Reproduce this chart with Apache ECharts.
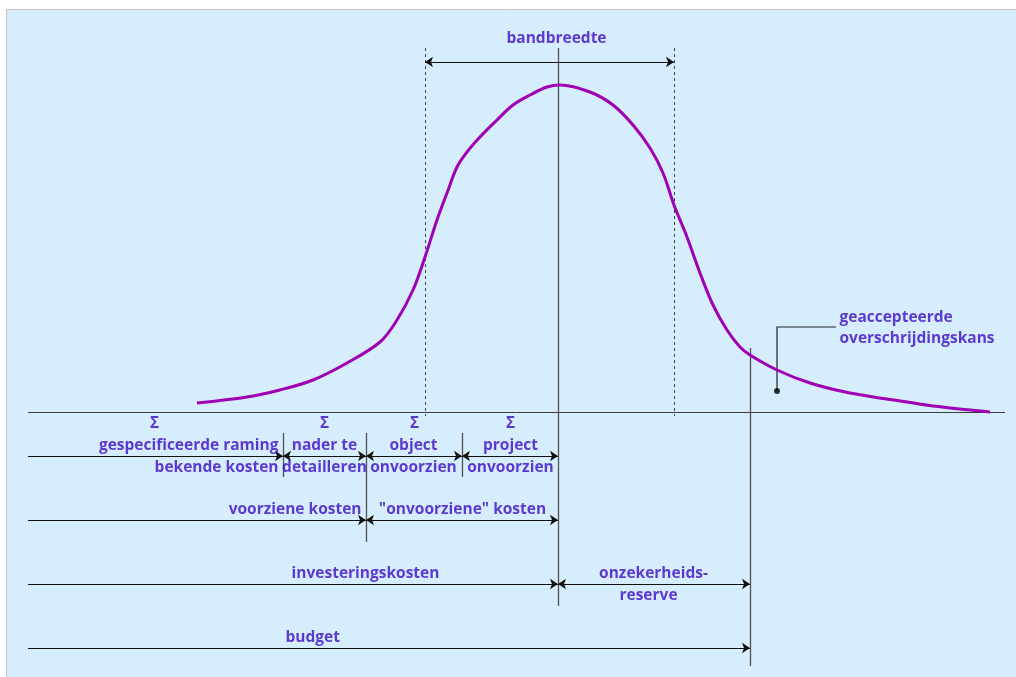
<!DOCTYPE html>
<html>
<head>
<meta charset="utf-8">
<script src="https://cdn.jsdelivr.net/npm/echarts@6/dist/echarts.min.js"></script>
<style>
html,body{margin:0;padding:0;background:#fff;}
#chart{width:1016px;height:677px;}
</style>
</head>
<body>
<div id="chart"></div>
<script>
// ---- data (cost on x, probability density on y; baseline = 0) ----
const curveCost = [197,247,280,313,347,380,397,413,425,437,447,457,467,480,497,513,530,547,560,590,613,633,650,663,674,687,700,713,727,740,750,777,810,850,907,933,990];
const curveDensity = [9,15,22,32,49,70,92,122,155,192,219,245,260,275,292,307,317,325,327,320,307,287,264,239,207,175,139,107,82,65,57,42,29,19,10,6,0];

// cost marks
const costStart = 28;
const costKnown = 283;        // gespecificeerde raming
const costDetail = 366;       // nader te detailleren
const costObject = 462;       // object onvoorzien
const costInvest = 558;       // investeringskosten (peak)
const costBudget = 750;       // budget
const bandLow = 425, bandHigh = 674;
const axisEnd = 1005;

// levels (density units, negatives are rows below the axis)
const bandLevel = 350;
const rowLevels = [-44, -108, -172, -236];

const labelColor = '#3c0ac4';

// labels: [cost, level, text, align]
const labels = [
  [557, 373, 'bandbreedte', 'center'],
  [155, -12, 'Σ', 'center'],
  [325, -12, 'Σ', 'center'],
  [415, -12, 'Σ', 'center'],
  [511, -12, 'Σ', 'center'],
  [279, -34, 'gespecificeerde raming', 'right'],
  [279, -56, 'bekende kosten', 'right'],
  [325, -34, 'nader te', 'center'],
  [325, -56, 'detailleren', 'center'],
  [414, -34, 'object', 'center'],
  [414, -56, 'onvoorzien', 'center'],
  [511, -34, 'project', 'center'],
  [511, -56, 'onvoorzien', 'center'],
  [362, -98, 'voorziene kosten', 'right'],
  [463, -98, '"onvoorziene" kosten', 'center'],
  [366, -162, 'investeringskosten', 'center'],
  [654, -162, 'onzekerheids-', 'center'],
  [649, -184, 'reserve', 'center'],
  [286, -226, 'budget', 'left'],
  [840, 94, 'geaccepteerde', 'left'],
  [840, 73, 'overschrijdingskans', 'left']
];

// solid vertical marks [cost, fromLevel, toLevel]
const solidMarks = [
  [costInvest, 364, -194],
  [costBudget, 64, -254],
  [costKnown, -21, -65],
  [costDetail, -21, -130],
  [costObject, -21, -65]
];
const dashedMarks = [
  [bandLow, 364, -4],
  [bandHigh, 364, -4]
];
// one-headed arrows [from, to, level]
const singleArrows = [
  [costStart, costKnown, rowLevels[0]],
  [costStart, costDetail, rowLevels[1]],
  [costStart, costInvest, rowLevels[2]],
  [costStart, costBudget, rowLevels[3]]
];
// two-headed arrows
const doubleArrows = [
  [bandLow, bandHigh, bandLevel],
  [costKnown, costDetail, rowLevels[0]],
  [costDetail, costObject, rowLevels[0]],
  [costObject, costInvest, rowLevels[0]],
  [costDetail, costInvest, rowLevels[1]],
  [costInvest, costBudget, rowLevels[2]]
];
// leader for "geaccepteerde overschrijdingskans"
const leader = [[836, 85], [777, 85], [777, 21]];

const chart = echarts.init(document.getElementById('chart'), null, {renderer: 'canvas'});

const font = {fontFamily: 'Open Sans', fontSize: 15.5, fontWeight: 'bold', color: labelColor};

chart.setOption({
  animation: false,
  backgroundColor: '#ffffff',
  grid: {left: 0, right: 0, top: 0, bottom: 0},
  xAxis: {type: 'value', min: 0, max: 1016, show: false},
  yAxis: {type: 'value', min: -265, max: 412, show: false},
  graphic: [{
    type: 'rect', z: -10, silent: true,
    shape: {x: 6.5, y: 9.5, width: 1020, height: 680},
    style: {fill: '#d6edfd', stroke: '#c4c4c4', lineWidth: 1}
  }],
  series: [
    {
      type: 'lines', coordinateSystem: 'cartesian2d', z: 2,
      symbol: ['none', 'none'],
      lineStyle: {color: '#3c3c3c', width: 1, opacity: 1},
      data: [{coords: [[costStart, 0], [axisEnd, 0]]}]
    },
    {
      type: 'lines', coordinateSystem: 'cartesian2d', z: 2,
      symbol: ['none', 'none'],
      lineStyle: {color: '#505050', width: 1.3, opacity: 1},
      data: solidMarks.map(m => ({coords: [[m[0], m[1]], [m[0], m[2]]]}))
    },
    {
      type: 'lines', coordinateSystem: 'cartesian2d', z: 2,
      symbol: ['none', 'none'],
      lineStyle: {color: '#404040', width: 1, type: [3, 3], opacity: 1},
      data: dashedMarks.map(m => ({coords: [[m[0], m[1]], [m[0], m[2]]]}))
    },
    {
      type: 'lines', coordinateSystem: 'cartesian2d', z: 3,
      symbol: ['none', 'arrow'], symbolSize: 8,
      lineStyle: {color: '#111', width: 1.2, opacity: 1},
      itemStyle: {color: '#111'},
      data: singleArrows.map(a => ({coords: [[a[0], a[2]], [a[1], a[2]]]}))
    },
    {
      type: 'lines', coordinateSystem: 'cartesian2d', z: 3,
      symbol: ['arrow', 'arrow'], symbolSize: 8,
      lineStyle: {color: '#111', width: 1.2, opacity: 1},
      data: doubleArrows.map(a => ({coords: [[a[0], a[2]], [a[1], a[2]]]}))
    },
    {
      type: 'lines', coordinateSystem: 'cartesian2d', polyline: true, z: 3,
      symbol: ['none', 'none'],
      lineStyle: {color: '#222', width: 1.2, opacity: 1},
      data: [{coords: leader}]
    },
    {
      type: 'line', z: 4,
      data: curveCost.map((c, i) => [c, curveDensity[i]]),
      smooth: 0.35, showSymbol: false,
      lineStyle: {color: '#a000b4', width: 3}
    },
    {
      type: 'scatter', z: 5,
      symbol: 'circle', symbolSize: 6,
      itemStyle: {color: '#000'},
      data: [leader[2]]
    },
    {
      type: 'scatter', z: 6,
      symbolSize: 1,
      itemStyle: {color: 'rgba(0,0,0,0)'},
      data: labels.map(l => ({
        value: [l[0], l[1]],
        label: {show: true, position: [0, 0], formatter: l[2], align: l[3], verticalAlign: 'middle', ...font}
      }))
    }
  ]
});
</script>
</body>
</html>
